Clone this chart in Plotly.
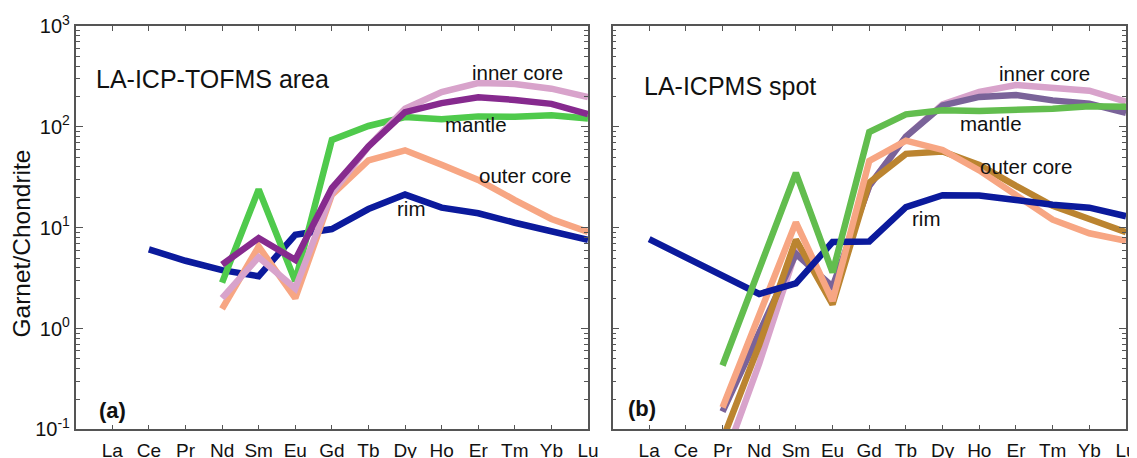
import plotly.graph_objects as go

# ---------------- data ----------------
REE = ["La", "Ce", "Pr", "Nd", "Sm", "Eu", "Gd", "Tb", "Dy", "Ho", "Er", "Tm", "Yb", "Lu"]

# (a) LA-ICP-TOFMS area
rim_a = [None, 6.1, 4.7, 3.8, 3.3, 8.5, 9.7, 15.3, 21.3, 15.8, 13.9, 11.2, 9.4, 7.6]
mantle_a = [None, None, None, 2.85, 24, 2.95, 74, 102, 125, 119, 127, 126, 130, 121]
outer_a = [None, None, None, 1.57, 6.5, 2.0, 21.2, 46.5, 58.5, 42, 29.8, 18.8, 12.2, 9.1]
inner_a = [None, None, None, 2.0, 5.1, 2.5, 22, 64, 151, 221, 272, 266, 239, 197]
purple_a = [None, None, None, 4.3, 7.9, 4.8, 24.7, 64, 140, 172, 196, 185, 169, 134]

# (b) LA-ICPMS spot
rim_b = [7.7, 5.1, 3.3, 2.2, 2.8, 7.2, 7.3, 16.0, 21.0, 20.8, 18.8, 16.9, 15.8, 13.0]
inner_b = [None, None, 0.045, 0.45, 5.8, 2.45, 26, 80, 167, 222, 260, 242, 228, 178]
purple_b = [None, None, 0.15, 0.92, 5.5, 2.6, 26, 80, 163, 198, 207, 183, 170, 138]
brown_b = [None, None, 0.079, 0.69, 7.6, 1.74, 28, 54, 57, 42, 26, 16.5, 12.2, 9.0]
outer_b = [None, None, 0.165, 1.4, 11.3, 1.88, 46, 73, 59, 37, 21.5, 12.0, 8.8, 7.4]
mantle_b = [None, None, 0.43, 3.9, 35, 3.6, 89, 133, 146, 144, 146, 151, 160, 158]

Y_TICKVALS = [0.1, 1, 10, 100, 1000]
Y_TICKTEXT = ["10<sup>-1</sup>", "10<sup>0</sup>", "10<sup>1</sup>", "10<sup>2</sup>", "10<sup>3</sup>"]
MINOR_VALS = [k * 10 ** e for e in range(-1, 3) for k in range(2, 10)]

# ---------------- styling ----------------
W, H = 1137, 458
OFF = 8  # page body margin offset of the plot div
FONT = "Liberation Sans, Arial, Helvetica, sans-serif"
AX = "#555555"
LW = 6.5

C_BLUE = "#0b1a9c"
C_GREEN_A = "#4fca4c"
C_PURPLE_A = "#862a8e"
C_PINK = "#d8a3cb"
C_SALMON = "#f7a683"
C_GREEN_B = "#62bd4e"
C_PURPLE_B = "#7a6399"
C_BROWN = "#bb8430"

fig = go.Figure()


def add(y, color, xa, ya):
    fig.add_trace(go.Scatter(x=REE, y=y, mode="lines", xaxis=xa, yaxis=ya,
                             line=dict(color=color, width=LW), hoverinfo="skip",
                             connectgaps=False))


# panel (a)
add(rim_a, C_BLUE, "x", "y")
add(mantle_a, C_GREEN_A, "x", "y")
add(outer_a, C_SALMON, "x", "y")
add(inner_a, C_PINK, "x", "y")
add(purple_a, C_PURPLE_A, "x", "y")

# panel (b)
add(inner_b, C_PINK, "x2", "y2")
add(purple_b, C_PURPLE_B, "x2", "y2")
add(brown_b, C_BROWN, "x2", "y2")
add(outer_b, C_SALMON, "x2", "y2")
add(rim_b, C_BLUE, "x2", "y2")
add(mantle_b, C_GREEN_B, "x2", "y2")


def PX(px):
    return (px - OFF) / W


def PY(py):
    return 1 - (py - OFF) / H


y_dom = [PY(429.4), PY(26)]
xa_dom = [PX(75.7), PX(588.0)]
xb_dom = [PX(612.5), PX(1126.0)]


def xaxis(domain, anchor):
    return dict(domain=domain, anchor=anchor, type="category", automargin=False,
                categoryorder="array", categoryarray=REE, range=[-1, 13],
                showline=True, linecolor=AX, linewidth=1.6, mirror="ticks",
                ticks="inside", ticklen=5, tickwidth=1, tickcolor=AX,
                showgrid=False, zeroline=False, ticklabelstandoff=3,
                tickfont=dict(family=FONT, size=19, color="#111"))


def yaxis(anchor, labels):
    return dict(domain=y_dom, anchor=anchor, type="log", range=[-1, 3],
                automargin=False,
                tickmode="array", tickvals=Y_TICKVALS, ticktext=Y_TICKTEXT,
                showticklabels=labels,
                showline=True, linecolor=AX, linewidth=1.6, mirror="ticks",
                ticks="inside", ticklen=7, tickwidth=1, tickcolor=AX,
                showgrid=False, zeroline=False,
                minor=dict(tickmode="array", tickvals=MINOR_VALS, ticks="inside",
                           ticklen=4, tickwidth=1, tickcolor=AX, showgrid=False),
                tickfont=dict(family=FONT, size=20, color="#111"))


annotations = []


def ann(text, px, py, size, bold=False, angle=0, xanchor="center"):
    t = "<b>%s</b>" % text if bold else text
    annotations.append(dict(text=t, x=PX(px), y=PY(py), xref="paper", yref="paper",
                            xanchor=xanchor, yanchor="middle", showarrow=False,
                            textangle=angle,
                            font=dict(family=FONT, size=size, color="#111")))


ann("Garnet/Chondrite", 20.5, 244, 24.5, angle=-90)
ann("LA-ICP-TOFMS area", 94, 79, 25, xanchor="left")
ann("LA-ICPMS spot", 641.7, 86, 25, xanchor="left")
ann("(a)", 112.8, 410, 22, bold=True)
ann("(b)", 641.8, 408, 22, bold=True)

# series labels (a)
ann("inner core", 517, 72, 20.5)
ann("mantle", 476, 124.7, 20.5)
ann("outer core", 525, 175.7, 20.5)
ann("rim", 410.5, 208, 20.5)
# series labels (b)
ann("inner core", 1044, 73, 20.5)
ann("mantle", 991, 123.7, 20.5)
ann("outer core", 1025.5, 166, 20.5)
ann("rim", 926, 218, 20.5)

fig.update_layout(
    width=W, height=H, margin=dict(l=0, r=0, t=0, b=0, pad=0, autoexpand=False),
    paper_bgcolor="white", plot_bgcolor="white", showlegend=False,
    font=dict(family=FONT, color="#111"),
    xaxis=xaxis(xa_dom, "y"), yaxis=yaxis("x", True),
    xaxis2=xaxis(xb_dom, "y2"), yaxis2=yaxis("x2", False),
    annotations=annotations,
)

fig.write_html("out.html")
